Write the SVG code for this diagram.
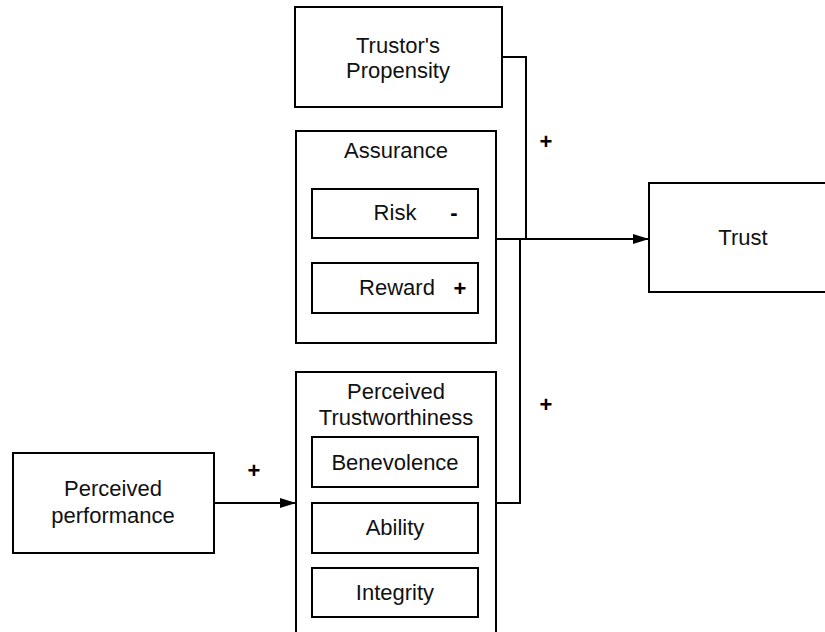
<svg xmlns="http://www.w3.org/2000/svg" width="825" height="632" viewBox="0 0 825 632">
<style>
.box{fill:#fff;stroke:#000;stroke-width:2}
.t{font-family:"Liberation Sans",Arial,sans-serif;font-size:22px;fill:#111;text-anchor:middle}
.s{font-family:"Liberation Sans",Arial,sans-serif;font-size:22px;font-weight:bold;fill:#000;text-anchor:middle}
.c{fill:none;stroke:#000;stroke-width:2}
</style>
<defs>
<marker id="ah" markerWidth="16" markerHeight="10" refX="16" refY="5" orient="auto" markerUnits="userSpaceOnUse">
<path d="M0,0 L16,5 L0,10 Z" fill="#000"/>
</marker>
</defs>
<rect width="825" height="632" fill="#fff"/>
<g id="connectors">
<polyline class="c" points="502,57 526,57 526,239"/>
<line class="c" x1="496" y1="239" x2="649" y2="239" marker-end="url(#ah)"/>
<polyline class="c" points="496,503 520,503 520,239"/>
<line class="c" x1="214" y1="503" x2="296" y2="503" marker-end="url(#ah)"/>
<text class="s" x="546" y="149">+</text>
<text class="s" x="546" y="412">+</text>
<text class="s" x="254" y="478">+</text>
</g>
<g id="propensity">
<rect class="box" x="295" y="7" width="207" height="100"/>
<text class="t" x="398" y="53">Trustor's</text>
<text class="t" x="398" y="78">Propensity</text>
</g>
<g id="assurance">
<rect class="box" x="296" y="131" width="200" height="212"/>
<text class="t" x="396" y="158">Assurance</text>
</g>
<g id="risk">
<rect class="box" x="312" y="189" width="166" height="49"/>
<text class="t" x="395" y="220">Risk</text>
<text class="s" x="454" y="220">-</text>
</g>
<g id="reward">
<rect class="box" x="312" y="263" width="166" height="50"/>
<text class="t" x="397" y="295">Reward</text>
<text class="s" x="460" y="296">+</text>
</g>
<g id="trust">
<rect class="box" x="649" y="183" width="200" height="109"/>
<text class="t" x="743" y="245">Trust</text>
</g>
<g id="performance">
<rect class="box" x="13" y="453" width="201" height="100"/>
<text class="t" x="113" y="496">Perceived</text>
<text class="t" x="113" y="523">performance</text>
</g>
<g id="trustworthiness">
<rect class="box" x="296" y="372" width="200" height="280"/>
<text class="t" x="396" y="399">Perceived</text>
<text class="t" x="396" y="425">Trustworthiness</text>
</g>
<g id="benevolence">
<rect class="box" x="312" y="437" width="166" height="50"/>
<text class="t" x="395" y="470">Benevolence</text>
</g>
<g id="ability">
<rect class="box" x="312" y="503" width="166" height="50"/>
<text class="t" x="395" y="535">Ability</text>
</g>
<g id="integrity">
<rect class="box" x="312" y="568" width="166" height="49"/>
<text class="t" x="395" y="600">Integrity</text>
</g>
</svg>
